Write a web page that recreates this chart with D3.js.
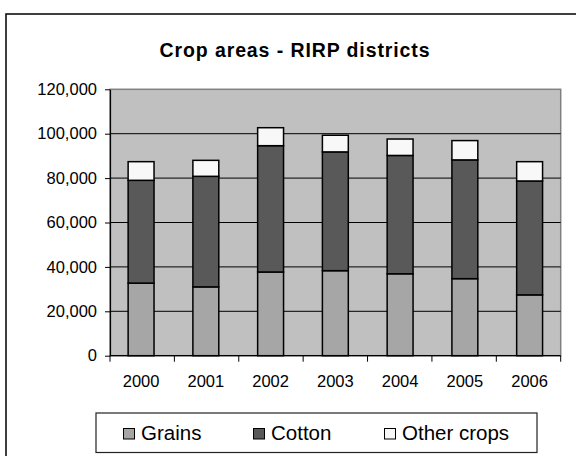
<!DOCTYPE html>
<html>
<head>
<meta charset="utf-8">
<script src="https://cdn.jsdelivr.net/npm/d3@7"></script>
<style>
  html, body { margin: 0; padding: 0; background: #fff; }
  svg { display: block; font-family: "Liberation Sans", Arial, sans-serif; }
</style>
</head>
<body>
<svg id="chart" width="576" height="456"></svg>
<script>
// Crop areas by year for the RIRP districts (hectares)
const years = ["2000", "2001", "2002", "2003", "2004", "2005", "2006"];
const grains = [32700, 31000, 37700, 38300, 36900, 34700, 27400];
const cotton = [46300, 49800, 56900, 53500, 53300, 53500, 51300];
const otherCrops = [8400, 7200, 8100, 7500, 7400, 8700, 8700];
const seriesNames = ["Grains", "Cotton", "Other crops"];
const seriesColors = ["#a6a6a6", "#595959", "#f8f8f8"];
const yTicks = [0, 20000, 40000, 60000, 80000, 100000, 120000];

const svg = d3.select("#chart");
const plot = { left: 110, right: 560.7, top: 89.3, bottom: 355.7 };

// Outer chart frame (runs off the right and bottom edges)
svg.append("rect")
  .attr("x", 6).attr("y", 14)
  .attr("width", 600).attr("height", 500)
  .attr("fill", "#fff").attr("stroke", "#000").attr("stroke-width", 1.5);

// Title
svg.append("text")
  .attr("x", 295).attr("y", 56.5)
  .attr("text-anchor", "middle")
  .attr("font-size", 19.5).attr("font-weight", "bold")
  .attr("letter-spacing", 0.9)
  .text("Crop areas - RIRP districts");

const x = d3.scaleBand()
  .domain(years)
  .range([plot.left, plot.right])
  .paddingInner(0.6)
  .paddingOuter(0.28);

const y = d3.scaleLinear()
  .domain([0, 120000])
  .range([plot.bottom, plot.top]);

// Plot background
svg.append("rect")
  .attr("x", plot.left).attr("y", plot.top)
  .attr("width", plot.right - plot.left).attr("height", plot.bottom - plot.top)
  .attr("fill", "#c0c0c0").attr("stroke", "#808080").attr("stroke-width", 1.5);

// Gridlines
svg.append("g")
  .selectAll("line")
  .data(yTicks.filter(t => t > 0 && t < 120000))
  .join("line")
  .attr("x1", plot.left).attr("x2", plot.right)
  .attr("y1", d => y(d)).attr("y2", d => y(d))
  .attr("stroke", "#000").attr("stroke-width", 1);

// Stacked bars
const rows = years.map((yr, i) => ({ year: yr, Grains: grains[i], Cotton: cotton[i], "Other crops": otherCrops[i] }));
const stack = d3.stack().keys(seriesNames)(rows);

svg.append("g")
  .selectAll("g")
  .data(stack)
  .join("g")
  .attr("fill", (d, i) => seriesColors[i])
  .selectAll("rect")
  .data(d => d)
  .join("rect")
  .attr("x", d => x(d.data.year))
  .attr("width", x.bandwidth())
  .attr("y", d => y(d[1]))
  .attr("height", d => y(d[0]) - y(d[1]))
  .attr("stroke", "#000").attr("stroke-width", 1.5);

// Y axis
const yAxis = d3.axisLeft(y)
  .tickValues(yTicks)
  .tickFormat(d3.format(","))
  .tickSizeInner(5).tickSizeOuter(0).tickPadding(8);
const gy = svg.append("g").attr("transform", `translate(${plot.left},0)`).call(yAxis);
gy.select(".domain").attr("stroke", "#000").attr("stroke-width", 1.2);
gy.selectAll(".tick line").attr("stroke", "#000");
gy.selectAll("text").attr("font-size", 16.5).attr("fill", "#000")
  .attr("font-family", "Liberation Sans, Arial, sans-serif");

// X axis: ticks on category boundaries, labels centred under bars
const boundaries = d3.range(years.length + 1).map(i => plot.left + i * (plot.right - plot.left) / years.length);
const gx = svg.append("g");
gx.append("line")
  .attr("x1", plot.left).attr("x2", plot.right)
  .attr("y1", plot.bottom).attr("y2", plot.bottom)
  .attr("stroke", "#000").attr("stroke-width", 1.2);
gx.selectAll("line.tk")
  .data(boundaries)
  .join("line").attr("class", "tk")
  .attr("x1", d => d).attr("x2", d => d)
  .attr("y1", plot.bottom).attr("y2", plot.bottom + 6)
  .attr("stroke", "#000");
gx.selectAll("text")
  .data(years)
  .join("text")
  .attr("x", d => x(d) + x.bandwidth() / 2)
  .attr("y", 387)
  .attr("text-anchor", "middle")
  .attr("font-size", 16.5)
  .text(d => d);

// Legend
const legend = svg.append("g");
legend.append("rect")
  .attr("x", 96).attr("y", 413)
  .attr("width", 441).attr("height", 39.5)
  .attr("fill", "#fff").attr("stroke", "#222").attr("stroke-width", 1.2);
const legendX = [123.5, 253.5, 384.5];
const items = legend.selectAll("g.item")
  .data(seriesNames)
  .join("g").attr("class", "item")
  .attr("transform", (d, i) => `translate(${legendX[i]},0)`);
items.append("rect")
  .attr("x", 0).attr("y", 428.5)
  .attr("width", 11).attr("height", 10.5)
  .attr("fill", (d, i) => seriesColors[i])
  .attr("stroke", "#000").attr("stroke-width", 1);
items.append("text")
  .attr("x", 17.5).attr("y", 439.5)
  .attr("font-size", 20.5)
  .text(d => d);
</script>
</body>
</html>
